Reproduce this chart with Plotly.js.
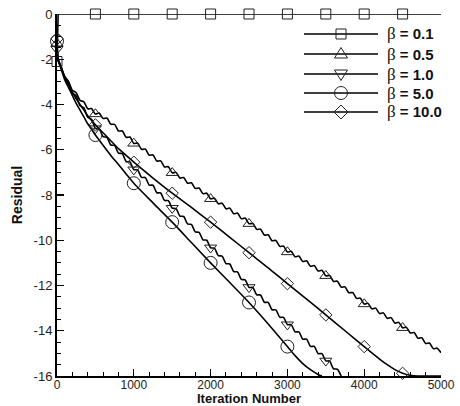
<!DOCTYPE html>
<html><head><meta charset="utf-8">
<script src="https://cdn.plot.ly/plotly-3.0.1.min.js"></script>
<style>html,body{margin:0;padding:0;background:#fff}#chart{width:460px;height:406px}</style>
</head><body><div id="chart"></div>
<script>
// ---- data ----
const NAMES = ['β = 0.1', 'β = 0.5', 'β = 1.0', 'β = 5.0', 'β = 10.0'];
const LABEL_VALUES = ['0.1', '0.5', '1.0', '5.0', '10.0'];

const ITER = [0,15,50,100,150,200,250,300,350,400,450,500,550,600,650,700,750,800,850,900,950,1000,1050,1100,1150,1200,1250,1300,1350,1400,1450,1500,1550,1600,1650,1700,1750,1800,1850,1900,1950,2000,2050,2100,2150,2200,2250,2300,2350,2400,2450,2500,2550,2600,2650,2700,2750,2800,2850,2900,2950,3000,3050,3100,3150,3200,3250,3300,3350,3400,3450,3500,3550,3600,3650,3700,3750,3800,3850,3900,3950,4000,4050,4100,4150,4200,4250,4300,4350,4400,4450,4500,4550,4600,4650,4700,4750,4800,4850,4900,4950,5000];

const ITER_B01 = [0,15,500,1000,1500,2000,2500,3000,3500,4000,4500,5000];
const RES_B01  = [-2.1,0,0,0,0,0,0,0,0,0,0,0];

const RES_B05 = [-1.30,-2.00,-2.30,-2.75,-2.98,-3.37,-3.48,-3.82,-3.88,-4.19,-4.18,-4.42,-4.38,-4.62,-4.60,-4.87,-4.88,-5.17,-5.17,-5.45,-5.44,-5.72,-5.71,-5.98,-5.97,-6.24,-6.23,-6.50,-6.49,-6.76,-6.75,-7.02,-7.00,-7.25,-7.23,-7.48,-7.46,-7.71,-7.69,-7.94,-7.92,-8.17,-8.14,-8.39,-8.36,-8.61,-8.58,-8.83,-8.80,-9.05,-9.02,-9.27,-9.26,-9.52,-9.51,-9.77,-9.76,-10.02,-10.01,-10.27,-10.26,-10.52,-10.49,-10.73,-10.70,-10.94,-10.91,-11.15,-11.12,-11.36,-11.33,-11.57,-11.56,-11.82,-11.81,-12.07,-12.06,-12.32,-12.31,-12.57,-12.56,-12.82,-12.79,-13.03,-13.00,-13.24,-13.21,-13.45,-13.42,-13.66,-13.63,-13.87,-13.85,-14.10,-14.08,-14.33,-14.31,-14.56,-14.54,-14.79,-14.77,-14.97];

const RES_B1 = [-1.55,-2.05,-2.35,-2.80,-3.04,-3.50,-3.62,-4.05,-4.14,-4.56,-4.65,-5.06,-5.08,-5.42,-5.45,-5.79,-5.81,-6.15,-6.17,-6.52,-6.54,-6.88,-6.89,-7.22,-7.23,-7.56,-7.57,-7.90,-7.91,-8.24,-8.25,-8.58,-8.60,-8.93,-8.95,-9.28,-9.30,-9.63,-9.65,-9.98,-10.00,-10.33,-10.35,-10.68,-10.70,-11.03,-11.05,-11.38,-11.40,-11.73,-11.75,-12.08,-12.09,-12.41,-12.42,-12.74,-12.75,-13.07,-13.08,-13.40,-13.41,-13.73,-13.73,-14.05,-14.05,-14.37,-14.37,-14.69,-14.69,-15.01,-15.01,-15.33,-15.34,-15.68,-15.70,-16.0];

const ITER_B5 = [0,15,50,100,150,200,250,300,350,400,450,500,600,700,800,900,1000,1250,1500,1750,2000,2250,2500,2750,3000,3100,3200,3300,3400,3450];
const RES_B5  = [-1.2,-2.05,-2.4,-2.9,-3.25,-3.6,-3.95,-4.25,-4.55,-4.85,-5.1,-5.35,-5.8,-6.25,-6.65,-7.07,-7.48,-8.35,-9.2,-10.1,-11.0,-11.87,-12.75,-13.7,-14.7,-15.1,-15.45,-15.72,-15.93,-16];

const ITER_B10 = [0,15,50,100,150,200,250,300,350,400,450,500,600,700,800,900,1000,1250,1500,1750,2000,2250,2500,2750,3000,3250,3500,3750,4000,4200,4300,4400,4500,4600,4700,5000];
const RES_B10  = [-1.1,-2.0,-2.3,-2.8,-3.15,-3.45,-3.75,-4.0,-4.25,-4.5,-4.7,-4.9,-5.25,-5.6,-5.95,-6.25,-6.55,-7.25,-7.92,-8.55,-9.2,-9.87,-10.55,-11.22,-11.92,-12.6,-13.3,-14.0,-14.7,-15.25,-15.5,-15.72,-15.88,-15.97,-16,-16];

const X_TICKS = [0,1000,2000,3000,4000,5000];
const Y_TICKS = [0,-2,-4,-6,-8,-10,-12,-14,-16];
const Y_TICK_TEXT = ['0','-2','-4','-6','-8','-10','-12','-14','-16'];

// ---- drawing ----
const SERIES = [
  {x: ITER_B01, y: RES_B01, sym: 'square-open', size: 10, shape: 'linear'},
  {x: ITER, y: RES_B05, sym: 'triangle-up-open', size: 10.5, shape: 'spline'},
  {x: ITER.slice(0, RES_B1.length), y: RES_B1, sym: 'triangle-down-open', size: 10.5, shape: 'spline'},
  {x: ITER_B5, y: RES_B5, sym: 'circle-open', size: 13, shape: 'spline'},
  {x: ITER_B10, y: RES_B10, sym: 'diamond-open', size: 9.5, shape: 'spline'}
];

const FONT = 'Liberation Sans, Arial, Helvetica, sans-serif';
const traces = [];
SERIES.forEach((s, k) => {
  traces.push({
    type: 'scatter', mode: 'lines', x: s.x, y: s.y, name: NAMES[k],
    showlegend: false, cliponaxis: k === 0 ? false : true,
    line: {color: '#000', width: 1.6, shape: s.shape, smoothing: 0.7}
  });
});
SERIES.forEach((s, k) => {
  const mx = [], my = [];
  s.x.forEach((v, i) => { if (v % 500 === 0 && v < 5000) { mx.push(v); my.push(s.y[i]); } });
  traces.push({
    type: 'scatter', mode: 'markers', x: mx, y: my, name: NAMES[k],
    showlegend: false, cliponaxis: false,
    marker: {symbol: s.sym, size: s.size, color: '#222', line: {color: '#222', width: 1}}
  });
});

// plot area in pixels
const L = 57, R = 441, T = 14, B = 376;
const px2x = p => (p - L) / (R - L);
const py2y = p => (B - p) / (B - T);

// custom legend (long lines with centred symbols)
const ROWS = [34, 54, 74, 93, 112];
const shapes = [], annotations = [];
const symPaths = [
  null,
  'M-6.5,-4 L6.5,-4 L0,6.5 Z',
  'M-6.5,4 L6.5,4 L0,-6.5 Z',
  null,
  'M0,-7 L7,0 L0,7 L-7,0 Z'
];
ROWS.forEach((py, k) => {
  const yy = py2y(py);
  shapes.push({type: 'line', xref: 'paper', yref: 'paper', x0: px2x(304), x1: px2x(378), y0: yy, y1: yy,
    line: {color: '#000', width: 1.5}, layer: 'above'});
  const base = {xref: 'paper', yref: 'paper', xsizemode: 'pixel', ysizemode: 'pixel',
    xanchor: px2x(341), yanchor: yy, line: {color: '#222', width: 1}, fillcolor: 'rgba(0,0,0,0)', layer: 'above'};
  if (k === 0) shapes.push(Object.assign({type: 'rect', x0: -5, x1: 5, y0: -5, y1: 5}, base));
  else if (k === 3) shapes.push(Object.assign({type: 'circle', x0: -6.5, x1: 6.5, y0: -6.5, y1: 6.5}, base));
  else shapes.push(Object.assign({type: 'path', path: symPaths[k]}, base));
  annotations.push({xref: 'paper', yref: 'paper', x: px2x(385), y: yy, xanchor: 'left', yanchor: 'middle',
    showarrow: false,
    text: '<span style="font-family:\'Liberation Serif\';font-size:17px">β</span> <b>= ' + LABEL_VALUES[k] + '</b>',
    font: {family: FONT, size: 15, color: '#111'}});
});

const layout = {
  width: 460, height: 406,
  margin: {l: L, r: 460 - R, t: T, b: 406 - B},
  paper_bgcolor: '#fff', plot_bgcolor: '#fff',
  showlegend: false,
  font: {family: FONT, size: 13, color: '#222'},
  xaxis: {
    range: [0, 5000], tickvals: X_TICKS, ticks: 'inside', ticklen: 7, tickwidth: 1.3, tickcolor: '#000',
    ticklabelstandoff: -3,
    minor: {dtick: 200, ticks: 'inside', ticklen: 4, tickwidth: 1, tickcolor: '#000'},
    showline: true, linecolor: '#000', linewidth: 2, showgrid: false, zeroline: false,
    tickfont: {family: FONT, size: 12, color: '#222'},
    title: {text: 'Iteration Number', standoff: 7, font: {family: FONT, size: 13, weight: 'bold', color: '#111'}}
  },
  yaxis: {
    range: [-16, 0], tickvals: Y_TICKS, ticktext: Y_TICK_TEXT, ticks: 'inside', ticklen: 7, tickwidth: 1.3, tickcolor: '#000',
    minor: {dtick: 0.5, ticks: 'inside', ticklen: 4, tickwidth: 1, tickcolor: '#000'},
    showline: true, linecolor: '#000', linewidth: 2, showgrid: false, zeroline: false,
    tickfont: {family: FONT, size: 13, color: '#222'},
    title: {text: 'Residual', standoff: 8, font: {family: FONT, size: 14, weight: 'bold', color: '#111'}}
  },
  shapes: shapes, annotations: annotations
};

Plotly.newPlot('chart', traces, layout, {staticPlot: true, displayModeBar: false});
</script>
</body></html>
